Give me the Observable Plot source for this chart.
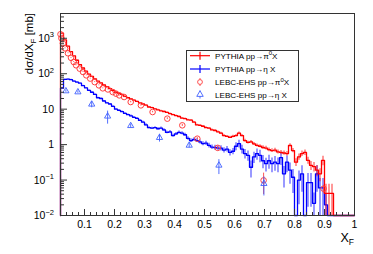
<!DOCTYPE html>
<html><head><meta charset="utf-8">
<script src="https://cdn.jsdelivr.net/npm/d3@7"></script>
<script src="https://cdn.jsdelivr.net/npm/@observablehq/plot@0.6"></script>
<style>body{margin:0;background:#fff}</style>
</head><body><div id="chart"></div>
<script>
// ---- data ----
const binEdges = d3.range(98).map(i => Math.round((0.02 + i * 0.01) * 100) / 100); // bin lower edges, width 0.01
const binWidth = 0.01;
const pythiaPi0 = [1400,900,600,420,320,240,180,145,
  118,98,84,72,62,55,48,43,38,34,
  30,28,26,23,21,19.5,18,16.5,15,14,
  13,11.5,11,10.2,9.6,9.0,8.6,8.1,7.5,7.0,
  6.6,6.2,5.6,5.4,5.0,4.9,4.3,3.6,3.5,3.3,
  3.0,2.9,2.6,2.5,2.3,2.1,1.8,1.7,1.6,1.7,
  1.8,2.1,1.8,1.3,1.15,1.2,1.05,0.95,0.9,0.83,
  0.8,0.72,0.68,0.7,0.62,0.6,0.58,0.56,0.95,0.68,
  0.32,0.45,0.56,0.6,0.36,0.26,0.24,0.19,0.15,0.36,
  0.042,0.042,0.042,0,0,0,0,0,0,0];
const pythiaPi0Err = [0.01,0.01,0.01,0.01,0.01,0.01,0.01,0.01,
  0.01,0.01,0.01,0.01,0.01,0.015,0.015,0.015,0.015,0.015,
  0.02,0.02,0.02,0.02,0.02,0.02,0.02,0.02,0.025,0.025,
  0.025,0.025,0.03,0.03,0.03,0.03,0.03,0.03,0.035,0.035,
  0.035,0.04,0.04,0.04,0.04,0.045,0.045,0.05,0.05,0.05,
  0.055,0.055,0.06,0.06,0.06,0.065,0.07,0.07,0.075,0.075,
  0.08,0.08,0.08,0.09,0.09,0.09,0.1,0.1,0.1,0.11,
  0.12,0.12,0.12,0.13,0.13,0.14,0.14,0.15,0.12,0.14,
  0.25,0.2,0.18,0.18,0.22,0.28,0.3,0.35,0.4,0.3,
  0.8,0.8,0.8,0,0,0,0,0,0,0];
const pythiaEta = [39,69,70,68,62,58,54,46,
  40,34,30,26,21,20,17,15,14,12,
  10,9.3,8.5,7.6,7.0,6.5,5.9,5.5,4.8,4.3,
  3.6,3.0,2.9,3.0,2.8,2.9,2.6,2.2,2.3,1.8,
  2.0,2.2,2.1,1.9,1.5,1.3,1.4,1.3,1.2,1.07,
  1.1,0.95,0.85,0.83,0.8,0.8,0.7,0.75,0.6,0.65,
  0.9,1.07,0.75,0.56,0.5,0.23,0.45,0.56,0.5,0.35,
  0.29,0.35,0.29,0.32,0.29,0.43,0.15,0.32,0.19,0.12,
  0,0.1,0.15,0,0.085,0.085,0.022,0.15,0.06,0.06,
  0.02,0,0,0,0,0,0,0,0,0];
const pythiaEtaErr = [0.02,0.02,0.02,0.02,0.02,0.02,0.02,0.025,
  0.025,0.025,0.03,0.03,0.03,0.035,0.035,0.035,0.04,0.04,
  0.045,0.045,0.05,0.05,0.05,0.055,0.055,0.06,0.06,0.06,
  0.07,0.07,0.07,0.07,0.08,0.08,0.08,0.08,0.09,0.09,
  0.1,0.1,0.1,0.1,0.11,0.12,0.12,0.12,0.13,0.13,
  0.14,0.15,0.15,0.16,0.16,0.17,0.17,0.18,0.2,0.2,
  0.25,0.25,0.28,0.3,0.32,0.5,0.35,0.35,0.38,0.4,
  0.42,0.42,0.45,0.45,0.45,0.4,0.6,0.5,0.6,0.65,
  0,0.8,0.7,0,0.8,0.8,0.95,0.7,0.85,0.85,
  0.95,0,0,0,0,0,0,0,0,0];
const lebcPi0X = [0.020,0.023,0.028,0.035,0.045,0.055,0.064,0.072,0.084,0.095,0.106,0.119,0.134,0.148,0.161,0.178,0.194,0.205,0.216,0.232,0.254,0.288,0.327,0.376,0.426,0.476,0.544,0.697,0.897];
const lebcPi0Y = [1300,1000,720,520,377,281,214,173,139,112,90,73,58,47,38.7,36,30.4,27.4,24.5,22,15.9,12.8,8.3,5.4,3.5,1.47,0.81,0.098,0.057];
const lebcPi0Err = [0.03,0.03,0.03,0.03,0.03,0.03,0.03,0.03,0.03,0.03,0.03,0.03,0.03,0.03,0.03,0.03,0.04,0.04,0.04,0.04,0.05,0.05,0.05,0.06,0.07,0.08,0.1,0.6,0.25];
const lebcEtaX = [0.038,0.078,0.124,0.177,0.254,0.350,0.449,0.548,0.698];
const lebcEtaY = [32.5,30.4,13.7,6.3,3.4,1.57,0.95,0.26,0.079];
const lebcEtaErr = [0.08,0.08,0.2,0.4,0.12,0.25,0.15,0.45,0.55];

const yMajor = [0.01, 0.1, 1, 10, 100, 1000];
const yLabelBase = ["10", "10", "1", "10", "10", "10"];
const yLabelExp = ["\u22122", "\u22121", "", "", "2", "3"];
const xMajor = [0.1,0.2,0.3,0.4,0.5,0.6,0.7,0.8,0.9,1];
const xLabels = ["0.1","0.2","0.3","0.4","0.5","0.6","0.7","0.8","0.9","1"];
const legendLabels = [
  ["PYTHIA pp\u2192\u03c0", "0", "X"],
  ["PYTHIA pp\u2192\u03b7 X", "", ""],
  ["LEBC-EHS pp\u2192\u03c0", "0", "X"],
  ["LEBC-EHS pp\u2192\u03b7 X", "", ""]
];

// ---- derived tables ----
const yMin = 0.01, yMax = 5000;
const yMinor = d3.range(-2, 4).flatMap(e => [2,3,4,5,6,7,8,9].map(m => m * Math.pow(10, e))).filter(v => v < yMax);
const xMinor = d3.range(1, 50).map(i => Math.round(i * 2) / 100).filter(v => v >= 0.02 && Math.round(v * 100) % 10 !== 0);
const RED = "#ff0000", BLUE = "#0000ff";
function histTable(vals, errs) {
  return vals.map((v, i) => ({x: binEdges[i], xc: binEdges[i] + binWidth / 2, v, e: errs[i] * v}));
}
function stepTable(rows) {
  const first = rows[0], last = rows[rows.length - 1];
  return [{x: first.x, v: 0}].concat(rows, [{x: last.x + binWidth, v: last.v}]);
}
const redRows = histTable(pythiaPi0, pythiaPi0Err);
const blueRows = histTable(pythiaEta, pythiaEtaErr);
const pi0Pts = lebcPi0X.map((x, i) => ({x, v: lebcPi0Y[i], e: lebcPi0Err[i] * lebcPi0Y[i]}));
const etaPts = lebcEtaX.map((x, i) => ({x, v: lebcEtaY[i], e: lebcEtaErr[i] * lebcEtaY[i]}));
const clampY = v => Math.min(yMax, Math.max(yMin, v));

const W = 373, H = 254, mL = 60, mR = 19, mT = 13, mB = 39;
const innerW = W - mL - mR, innerH = H - mT - mB;

const chart = Plot.plot({
  width: W, height: H,
  marginLeft: mL, marginRight: mR, marginTop: mT, marginBottom: mB,
  style: {fontFamily: "'Liberation Sans', Arial, Helvetica, sans-serif", background: "#fff", overflow: "visible"},
  x: {domain: [0.02, 1], axis: null},
  y: {type: "log", domain: [yMin, yMax], axis: null},
  marks: [
    // PYTHIA eta
    Plot.ruleX(blueRows.filter(d => d.e > 0), {x: "xc", y1: d => clampY(d.v - d.e), y2: d => clampY(d.v + d.e), stroke: BLUE, strokeOpacity: 0.5, strokeWidth: 1.6}),
    Plot.line(stepTable(blueRows), {x: "x", y: d => clampY(d.v), curve: "step-after", stroke: BLUE, strokeWidth: 1.3}),
    // PYTHIA pi0
    Plot.ruleX(redRows.filter(d => d.e > 0), {x: "xc", y1: d => clampY(d.v - d.e), y2: d => clampY(d.v + d.e), stroke: RED, strokeOpacity: 0.5, strokeWidth: 1.6}),
    Plot.line(stepTable(redRows), {x: "x", y: d => clampY(d.v), curve: "step-after", stroke: RED, strokeWidth: 1.3}),
    // LEBC-EHS data
    Plot.ruleX(pi0Pts, {x: "x", y1: d => clampY(d.v - d.e), y2: d => clampY(d.v + d.e), stroke: "#ff4040", strokeWidth: 0.9}),
    Plot.dot(pi0Pts, {x: "x", y: "v", r: 2.8, stroke: "#ff4040", strokeWidth: 1, fill: "none"}),
    Plot.ruleX(etaPts, {x: "x", y1: d => clampY(d.v - d.e), y2: d => clampY(d.v + d.e), stroke: "#4060ff", strokeWidth: 0.9}),
    Plot.dot(etaPts, {x: "x", y: "v", r: 2.3, symbol: "triangle", stroke: "#4060ff", strokeWidth: 0.9, fill: "none"}),
    // frame & ticks
    Plot.frame({stroke: "#333", strokeWidth: 1}),
    Plot.ruleY(yMajor, {y: d => d, insetRight: innerW - 7, stroke: "#333"}),
    Plot.ruleY(yMinor, {y: d => d, insetRight: innerW - 4, stroke: "#333"}),
    Plot.ruleX(xMajor, {x: d => d, insetTop: innerH - 6, stroke: "#333"}),
    Plot.ruleX(xMinor, {x: d => d, insetTop: innerH - 3, stroke: "#333"}),
    Plot.text(xMajor, {x: d => d, text: (d, i) => xLabels[i], frameAnchor: "bottom", lineAnchor: "top", dy: 5, fontSize: 10.5, fill: "#000"})
  ]
});
document.getElementById("chart").appendChild(chart);

// ---- overlays drawn with the chart's own scales ----
const svg = d3.select(chart);
const ys = chart.scale("y");
const font = "'Liberation Sans', Arial, Helvetica, sans-serif";
const yl = svg.append("g").attr("font-family", font).attr("font-size", 10.5).attr("fill", "#000");
yMajor.forEach((v, i) => {
  const t = yl.append("text").attr("x", mL - 6).attr("y", ys.apply(v) + 4).attr("text-anchor", "end");
  t.append("tspan").text(yLabelBase[i]);
  if (yLabelExp[i]) t.append("tspan").attr("font-size", 7.5).attr("dy", -4.5).text(yLabelExp[i]);
});
// y title
const yt = svg.append("text").attr("font-family", font).attr("font-size", 11.5)
  .attr("text-anchor", "end").attr("transform", `translate(33,${mT}) rotate(-90)`);
yt.append("tspan").text("d\u03c3/dX");
yt.append("tspan").attr("font-size", 8).attr("dy", 3).text("F");
yt.append("tspan").attr("dy", -3).text(" [mb]");
// x title
const xt = svg.append("text").attr("font-family", font).attr("font-size", 12.5)
  .attr("text-anchor", "end").attr("x", W - mR).attr("y", 242);
xt.append("tspan").text("X");
xt.append("tspan").attr("font-size", 8.5).attr("dy", 3).text("F");

// legend
const lg = svg.append("g").attr("font-family", font).attr("font-size", 8.1).attr("text-anchor", "start");
lg.append("rect").attr("x", 186.5).attr("y", 50.5).attr("width", 112).attr("height", 51)
  .attr("fill", "#fff").attr("stroke", "#333").attr("stroke-width", 1);
const rowsY = [55.7, 69, 82, 94.5];
const cx = 200;
[[RED, 0], [BLUE, 1]].forEach(([c, i]) => {
  lg.append("line").attr("x1", cx - 10).attr("x2", cx + 10).attr("y1", rowsY[i]).attr("y2", rowsY[i]).attr("stroke", c).attr("stroke-width", 1.2);
  lg.append("line").attr("x1", cx).attr("x2", cx).attr("y1", rowsY[i] - 4).attr("y2", rowsY[i] + 4).attr("stroke", c).attr("stroke-width", 1.2);
});
lg.append("line").attr("x1", cx).attr("x2", cx).attr("y1", rowsY[2] - 4).attr("y2", rowsY[2] + 4).attr("stroke", "#ff4040").attr("stroke-width", 0.9);
lg.append("circle").attr("cx", cx).attr("cy", rowsY[2]).attr("r", 2.4).attr("fill", "#fff").attr("stroke", "#ff4040").attr("stroke-width", 0.9);
lg.append("line").attr("x1", cx).attr("x2", cx).attr("y1", rowsY[3] - 4).attr("y2", rowsY[3] + 4).attr("stroke", "#4060ff").attr("stroke-width", 0.9);
lg.append("path").attr("d", d3.symbol(d3.symbolTriangle, 18)()).attr("transform", `translate(${cx},${rowsY[3]})`)
  .attr("fill", "#fff").attr("stroke", "#4060ff").attr("stroke-width", 0.9);
legendLabels.forEach((lab, i) => {
  const t = lg.append("text").attr("x", 215).attr("y", rowsY[i] + 3).attr("text-anchor", "start");
  t.append("tspan").text(lab[0]);
  if (lab[1]) {
    t.append("tspan").attr("font-size", 6).attr("dy", -3.5).text(lab[1]);
    t.append("tspan").attr("dy", 3.5).text(lab[2]);
  }
});
</script></body></html>
